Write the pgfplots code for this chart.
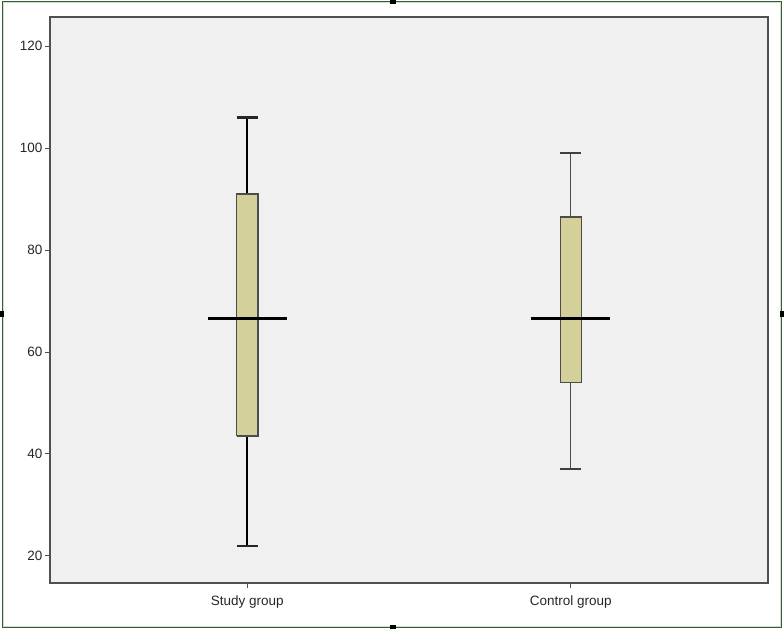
\documentclass[border=0pt]{standalone}
\usepackage{pgfplots}
\pgfplotsset{compat=1.18}
\usepackage{fontspec}
\setmainfont{Liberation Sans}
\definecolor{boxfill}{HTML}{D3D09A}
\definecolor{bgcol}{HTML}{F0F0F0}
\definecolor{framecol}{HTML}{505050}
\definecolor{outer}{HTML}{3C5A3C}
\definecolor{outerlight}{HTML}{C6E4C6}
\begin{document}
\begin{tikzpicture}[x=1pt,y=1pt]
\path[use as bounding box] (0,0) rectangle (784,629);
\draw[outerlight, line width=1pt] (3.5,3) rectangle (780.5,626.5);
\draw[outer, line width=1pt] (2.5,2) rectangle (781.5,627.5);
\begin{axis}[
  at={(50pt,46pt)}, anchor=south west,
  scale only axis, width=718pt, height=566pt,
  xmin=0.39, xmax=2.61, ymin=14.7, ymax=125.7,
  axis background/.style={fill=bgcol},
  axis line style={draw=framecol, line width=1.6pt},
  xtick={1,2}, xticklabels={Study group, Control group},
  ytick={20,40,60,80,100,120},
  tick align=outside, major tick length=5pt,
  tick style={draw=framecol, line width=1pt},
  xtick pos=bottom, ytick pos=left,
  /pgf/number format/assume math mode=true,
  ticklabel style={font=\fontsize{13.5}{15}\selectfont, text=black!85},
  yticklabel style={xshift=1pt},
  xticklabel style={yshift=-4pt},
  clip=false,
]
% Study group whiskers
\addplot[black, line width=2.2pt, no marks] coordinates {(1,22) (1,43.5)};
\addplot[black, line width=2.2pt, no marks] coordinates {(1,91) (1,106)};
\addplot[black!85, line width=2.2pt, no marks] coordinates {(0.9675,22) (1.0325,22)};
\addplot[black!85, line width=2.2pt, no marks] coordinates {(0.9675,106) (1.0325,106)};
% Study box
\addplot[fill=boxfill, draw=black!70, line width=1.4pt, no marks] coordinates {(0.9675,43.5) (1.0325,43.5) (1.0325,91) (0.9675,91) (0.9675,43.5)};
% Study median
\addplot[black, line width=3pt, no marks] coordinates {(0.877,66.5) (1.123,66.5)};
% Control whiskers
\addplot[black!70, line width=1.2pt, no marks] coordinates {(2,37) (2,54)};
\addplot[black!70, line width=1.2pt, no marks] coordinates {(2,86.5) (2,99)};
\addplot[black!75, line width=1.8pt, no marks] coordinates {(1.9675,37) (2.0325,37)};
\addplot[black!75, line width=1.8pt, no marks] coordinates {(1.9675,99) (2.0325,99)};
% Control box
\addplot[fill=boxfill, draw=black!70, line width=1.4pt, no marks] coordinates {(1.9675,54) (2.0325,54) (2.0325,86.5) (1.9675,86.5) (1.9675,54)};
% Control median
\addplot[black, line width=3pt, no marks] coordinates {(1.877,66.5) (2.123,66.5)};
\end{axis}
\fill[black] (390,625) rectangle (396,629);
\fill[black] (390,0) rectangle (396,4);
\fill[black] (0,312) rectangle (4,318);
\fill[black] (780,312) rectangle (784,318);
\end{tikzpicture}
\end{document}
